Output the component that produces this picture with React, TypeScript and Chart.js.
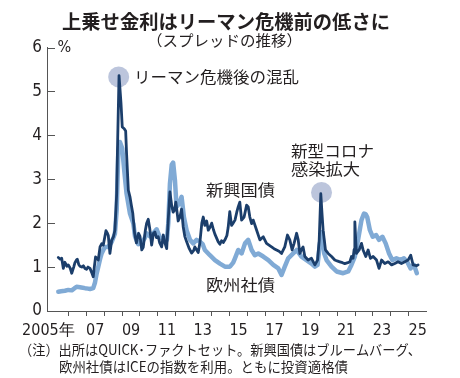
import React, { useEffect, useRef } from "react";
import { Chart, registerables } from "chart.js";
Chart.register(...registerables);

// 新興国債 (emerging-market sovereign, investment grade) spread, %
const emYears = [
  2005.44, 2005.55, 2005.63, 2005.72, 2005.81, 2005.92, 2006.0, 2006.1, 2006.19, 2006.3,
  2006.37, 2006.45, 2006.5, 2006.58, 2006.65, 2006.75, 2006.84, 2006.93, 2007.02, 2007.1,
  2007.21, 2007.3, 2007.39, 2007.45, 2007.52, 2007.6, 2007.67, 2007.77, 2007.86, 2007.95,
  2008.02, 2008.1, 2008.17, 2008.23, 2008.32, 2008.42, 2008.51, 2008.6, 2008.7, 2008.75,
  2008.83, 2008.94, 2009.01, 2009.12, 2009.2, 2009.25, 2009.35, 2009.44, 2009.52, 2009.6,
  2009.7, 2009.8, 2009.92, 2010.0, 2010.1, 2010.18, 2010.3, 2010.37, 2010.46, 2010.55,
  2010.65, 2010.75, 2010.83, 2010.92, 2011.02, 2011.1, 2011.21, 2011.3, 2011.39, 2011.49,
  2011.58, 2011.67, 2011.77, 2011.85, 2011.93, 2012.0, 2012.13, 2012.23, 2012.32, 2012.41,
  2012.5, 2012.6, 2012.75, 2012.88, 2013.0, 2013.06, 2013.15, 2013.25, 2013.34, 2013.45,
  2013.53, 2013.62, 2013.72, 2013.81, 2013.9, 2014.0, 2014.1, 2014.18, 2014.36, 2014.46,
  2014.55, 2014.65, 2014.74, 2014.85, 2014.92, 2015.01, 2015.11, 2015.2, 2015.3, 2015.4,
  2015.48, 2015.57, 2015.67, 2015.81, 2015.95, 2016.04, 2016.13, 2016.23, 2016.32, 2016.51,
  2016.69, 2016.88, 2017.06, 2017.2, 2017.34, 2017.48, 2017.62, 2017.76, 2017.9, 2018.08,
  2018.23, 2018.36, 2018.49, 2018.6, 2018.74, 2018.83, 2018.92, 2019.01, 2019.1, 2019.2,
  2019.38, 2019.57, 2019.76, 2019.91, 2020.0, 2020.09, 2020.16, 2020.22, 2020.35, 2020.5,
  2020.69, 2020.87, 2021.0, 2021.15, 2021.3, 2021.43, 2021.6, 2021.71, 2021.8, 2021.89,
  2021.95, 2021.99, 2022.04, 2022.08, 2022.23, 2022.36, 2022.45, 2022.6, 2022.73, 2022.86,
  2023.01, 2023.2, 2023.34, 2023.48, 2023.66, 2023.85, 2024.04, 2024.22, 2024.4, 2024.59,
  2024.78, 2024.96, 2025.11, 2025.24, 2025.43, 2025.52,
];
const emValues = [
  1.22, 1.18, 1.2, 0.97, 1.11, 1.02, 1.05, 0.98, 0.86, 1.0,
  1.1, 1.16, 1.18, 1.06, 1.02, 1.0, 1.03, 0.97, 0.95, 1.0,
  0.97, 0.88, 0.78, 1.0, 1.23, 1.2, 1.16, 1.46, 1.53, 1.5,
  1.65, 1.83, 1.78, 1.72, 1.31, 1.61, 1.68, 1.84, 2.68, 3.82,
  5.36, 4.73, 4.19, 4.15, 4.1, 3.59, 2.75, 2.6, 2.4, 2.22,
  1.77, 1.55, 1.77, 1.7, 1.39, 1.45, 1.84, 2.0, 2.09, 1.86,
  1.5, 1.77, 1.8, 1.67, 1.69, 1.55, 1.46, 1.73, 1.55, 1.42,
  2.1, 2.71, 2.4, 2.25, 2.3, 2.48, 2.05, 2.14, 2.32, 1.92,
  1.7, 1.58, 1.42, 1.32, 1.38, 1.46, 1.4, 1.33, 1.55, 2.0,
  2.14, 1.95, 2.05, 1.84, 1.9, 2.0, 1.85, 1.75, 1.58, 1.52,
  1.6, 1.56, 1.62, 1.72, 1.9, 2.26, 1.95, 2.0, 2.07, 2.25,
  2.37, 2.48, 2.07, 2.14, 2.41, 2.37, 2.14, 1.99, 2.07, 1.84,
  1.62, 1.69, 1.54, 1.5, 1.46, 1.42, 1.39, 1.36, 1.31, 1.46,
  1.73, 1.62, 1.39, 1.54, 1.77, 1.62, 1.31, 1.4, 1.46, 1.24,
  1.16, 1.2, 1.05, 1.16, 1.6, 2.67, 2.2, 1.84, 1.39, 1.31,
  1.24, 1.16, 1.14, 1.12, 1.1, 1.08, 1.1, 1.12, 1.24, 1.2,
  1.4, 2.03, 1.6, 1.31, 1.39, 1.54, 1.39, 1.24, 1.39, 1.2,
  1.24, 1.16, 0.97, 1.16, 1.08, 1.12, 1.05, 1.08, 1.12, 1.08,
  1.12, 1.16, 1.27, 1.05, 1.03, 1.05,
];

// 欧州社債 (European corporate bonds, investment grade) spread, %
const euYears = [
  2005.44, 2005.6, 2005.81, 2006.0, 2006.19, 2006.35, 2006.46, 2006.65, 2006.8, 2006.93,
  2007.1, 2007.21, 2007.39, 2007.49, 2007.58, 2007.67, 2007.77, 2007.86, 2008.04, 2008.23,
  2008.42, 2008.6, 2008.7, 2008.79, 2008.88, 2009.01, 2009.12, 2009.25, 2009.44, 2009.63,
  2009.72, 2009.9, 2010.09, 2010.25, 2010.37, 2010.55, 2010.74, 2010.93, 2011.11, 2011.3,
  2011.5, 2011.58, 2011.67, 2011.77, 2011.85, 2011.95, 2012.04, 2012.19, 2012.32, 2012.45,
  2012.6, 2012.79, 2012.97, 2013.16, 2013.34, 2013.5, 2013.62, 2013.9, 2014.18, 2014.46,
  2014.74, 2015.02, 2015.2, 2015.3, 2015.48, 2015.67, 2015.86, 2016.04, 2016.23, 2016.41,
  2016.6, 2016.88, 2017.16, 2017.44, 2017.72, 2017.9, 2018.08, 2018.27, 2018.55, 2018.74,
  2019.01, 2019.29, 2019.57, 2019.76, 2019.91, 2020.04, 2020.17, 2020.28, 2020.41, 2020.69,
  2020.97, 2021.34, 2021.62, 2021.8, 2021.99, 2022.17, 2022.36, 2022.5, 2022.6, 2022.68,
  2022.83, 2022.99, 2023.18, 2023.34, 2023.53, 2023.71, 2023.9, 2024.08, 2024.31, 2024.54,
  2024.73, 2024.91, 2025.1, 2025.29, 2025.45,
];
const euValues = [
  0.44, 0.45, 0.46, 0.48, 0.47, 0.52, 0.55, 0.54, 0.53, 0.52,
  0.51, 0.5, 0.52, 0.65, 0.85, 1.0, 1.18, 1.31, 1.46, 1.46,
  1.57, 1.76, 2.3, 3.66, 3.85, 3.7, 3.2, 2.67, 2.22, 1.99,
  1.7, 1.52, 1.55, 1.65, 1.77, 1.7, 1.77, 1.86, 1.67, 1.64,
  1.62, 2.0, 2.9, 3.33, 3.38, 2.98, 2.37, 2.45, 2.6, 2.14,
  1.84, 1.62, 1.54, 1.62, 1.58, 1.52, 1.39, 1.27, 1.16, 1.08,
  1.01, 1.01, 1.1, 1.2, 1.39, 1.31, 1.54, 1.62, 1.39, 1.27,
  1.31, 1.24, 1.16, 1.05, 0.97, 0.82, 1.01, 1.2, 1.31, 1.39,
  1.24, 1.16, 1.08, 1.01, 1.05, 1.54, 1.8, 1.31, 1.16, 1.01,
  0.9, 0.86, 0.9, 1.05, 1.24, 1.62, 2.07, 2.22, 2.2, 2.14,
  1.84, 1.69, 1.73, 1.62, 1.69, 1.54, 1.31, 1.16, 1.2, 1.16,
  1.2, 1.12, 0.97, 1.05, 0.86,
];

const yTickValues = [0, 1, 2, 3, 4, 5, 6];
const xTickYears = [
  2006, 2007, 2008, 2009, 2010, 2011, 2012, 2013, 2014, 2015,
  2016, 2017, 2018, 2019, 2020, 2021, 2022, 2023, 2024, 2025,
];
const xLabelYears = [2004.89, 2007.5, 2009.5, 2011.5, 2013.5, 2015.5, 2017.5, 2019.5, 2021.5, 2023.5, 2025.5];
const xLabelTexts = ["2005年", "07", "09", "11", "13", "15", "17", "19", "21", "23", "25"];

// highlighted events (year, value)
const eventYears = [2008.81, 2020.13];
const eventValues = [5.33, 2.7];

const X_MIN = 2004.81;
const X_MAX = 2026.0;

const DARK = "#1b3e6b";
const LIGHT = "#80aad5";
const TEXT = "#231f20";
const AXIS = "#555555";
const NUM_FONT = "'Liberation Sans Narrow', 'Arial Narrow', 'DejaVu Sans Condensed', sans-serif";
const JP_FONT = "'Noto Sans CJK JP', 'Noto Sans', sans-serif";

function fitText(ctx: CanvasRenderingContext2D, text: string, x1: number, x2: number, yc: number, font: string) {
  ctx.save();
  ctx.font = font;
  ctx.fillStyle = TEXT;
  ctx.textBaseline = "middle";
  ctx.textAlign = "left";
  const w = ctx.measureText(text).width;
  const sx = w > 0 ? (x2 - x1) / w : 1;
  ctx.translate(x1, yc);
  ctx.scale(sx, 1);
  ctx.fillText(text, 0, 0);
  ctx.restore();
}

const decorPlugin = {
  id: "decor",
  beforeDatasetsDraw(chart: any) {
    const ctx = chart.ctx as CanvasRenderingContext2D;
    const xs = chart.scales.x;
    const ys = chart.scales.y;
    ctx.save();
    ctx.fillStyle = "rgba(160,172,205,0.7)";
    for (let i = 0; i < eventYears.length; i++) {
      ctx.beginPath();
      ctx.arc(xs.getPixelForValue(eventYears[i]), ys.getPixelForValue(eventValues[i]), 10.5, 0, Math.PI * 2);
      ctx.fill();
    }
    ctx.restore();
  },
  afterDraw(chart: any) {
    const ctx = chart.ctx as CanvasRenderingContext2D;
    const ys = chart.scales.y;
    const left = chart.chartArea.left;
    ctx.save();
    ctx.strokeStyle = AXIS;
    ctx.lineWidth = 1;
    for (const v of yTickValues) {
      const py = Math.round(ys.getPixelForValue(v)) + 0.5;
      ctx.beginPath();
      ctx.moveTo(left, py);
      ctx.lineTo(left + 8, py);
      ctx.stroke();
    }
    ctx.restore();

    fitText(ctx, "上乗せ金利はリーマン危機前の低さに", 62, 390, 21.5, `bold 19px ${JP_FONT}`);
    fitText(ctx, "（スプレッドの推移）", 147, 302, 40, `15px ${JP_FONT}`);
    ctx.save();
    ctx.font = `16px ${NUM_FONT}`;
    ctx.fillStyle = TEXT;
    ctx.textBaseline = "middle";
    ctx.fillText("%", 57.5, 48);
    ctx.restore();
    fitText(ctx, "リーマン危機後の混乱", 134, 299, 76.5, `16px ${JP_FONT}`);
    fitText(ctx, "新型コロナ", 291, 374, 150.5, `16px ${JP_FONT}`);
    fitText(ctx, "感染拡大", 291, 360, 169, `16px ${JP_FONT}`);
    fitText(ctx, "新興国債", 206, 275, 190, `16px ${JP_FONT}`);
    fitText(ctx, "欧州社債", 206, 275, 284.7, `16px ${JP_FONT}`);
    fitText(ctx, "（注）出所はQUICK･ファクトセット。新興国債はブルームバーグ、", 19, 421, 350, `14px ${JP_FONT}`);
    fitText(ctx, "欧州社債はICEの指数を利用。ともに投資適格債", 59, 348, 367, `14px ${JP_FONT}`);
  },
};

export default function App() {
  const ref = useRef<HTMLCanvasElement | null>(null);
  useEffect(() => {
    document.body.style.margin = "0";
    const canvas = ref.current;
    if (!canvas) return;
    const emData = emYears.map((x, i) => ({ x, y: emValues[i] }));
    const euData = euYears.map((x, i) => ({ x, y: euValues[i] }));
    const chart = new Chart(canvas, {
      type: "line",
      data: {
        datasets: [
          {
            label: "新興国債",
            data: emData,
            borderColor: DARK,
            borderWidth: 2.8,
            pointRadius: 0,
            tension: 0,
            borderJoinStyle: "round",
            borderCapStyle: "round",
            xAxisID: "x",
            yAxisID: "y",
            order: 0,
          },
          {
            label: "欧州社債",
            data: euData,
            borderColor: LIGHT,
            borderWidth: 4.5,
            pointRadius: 0,
            tension: 0,
            borderJoinStyle: "round",
            borderCapStyle: "round",
            xAxisID: "x",
            yAxisID: "y",
            order: 1,
          },
        ],
      },
      options: {
        animation: false,
        responsive: false,
        maintainAspectRatio: false,
        events: [],
        layout: { padding: { top: 47.5, right: 33.3, bottom: 0, left: 0 } },
        plugins: { legend: { display: false }, tooltip: { enabled: false }, title: { display: false } },
        scales: {
          x: {
            type: "linear",
            position: "bottom",
            min: X_MIN,
            max: X_MAX,
            weight: 0,
            afterBuildTicks: (scale: any) => {
              scale.ticks = xTickYears.map((v) => ({ value: v }));
            },
            afterFit: (scale: any) => {
              scale.height = 6;
            },
            ticks: { display: false, autoSkip: false },
            grid: { display: true, drawOnChartArea: false, drawTicks: true, tickLength: 5, color: AXIS, lineWidth: 1 },
            border: { display: true, color: AXIS, width: 1 },
          },
          xl: {
            type: "linear",
            position: "bottom",
            min: X_MIN,
            max: X_MAX,
            weight: 1,
            afterBuildTicks: (scale: any) => {
              scale.ticks = xLabelYears.map((v) => ({ value: v }));
            },
            afterFit: (scale: any) => {
              scale.height = 61;
            },
            ticks: {
              autoSkip: false,
              maxRotation: 0,
              minRotation: 0,
              padding: 4,
              color: TEXT,
              font: { family: NUM_FONT, size: 16 },
              callback: (_v: any, i: number) => xLabelTexts[i],
            },
            grid: { display: false, drawTicks: false },
            border: { display: false },
          },
          y: {
            type: "linear",
            position: "left",
            min: 0,
            max: 6,
            afterBuildTicks: (scale: any) => {
              scale.ticks = yTickValues.map((v) => ({ value: v }));
            },
            afterFit: (scale: any) => {
              scale.width = 47;
            },
            ticks: {
              padding: 5,
              color: TEXT,
              font: { family: NUM_FONT, size: 17 },
              callback: (v: any) => String(v),
            },
            grid: { display: false, drawTicks: false },
            border: { display: true, color: AXIS, width: 1 },
          },
        },
      },
      plugins: [decorPlugin],
    });
    return () => chart.destroy();
  }, []);
  return <canvas ref={ref} width={460} height={378} style={{ display: "block", width: 460, height: 378 }} />;
}
